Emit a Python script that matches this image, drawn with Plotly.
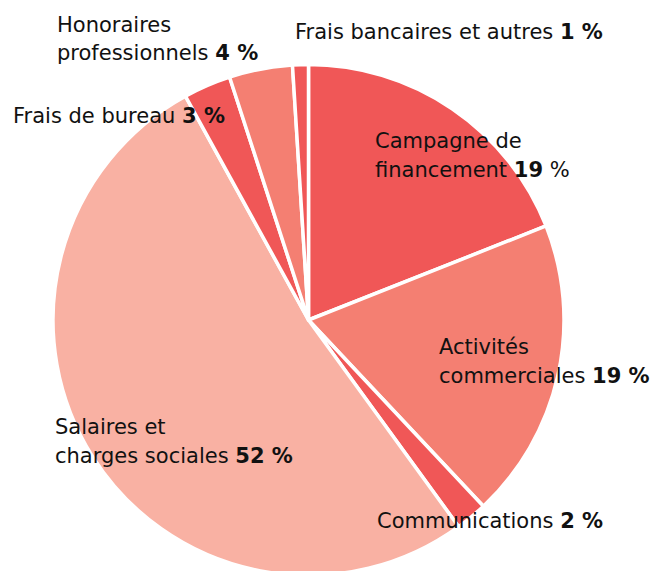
import plotly.graph_objects as go

# ---- data ----
categories = [
    "Campagne de financement",
    "Activités commerciales",
    "Communications",
    "Salaires et charges sociales",
    "Frais de bureau",
    "Honoraires professionnels",
    "Frais bancaires et autres",
]
values = [19, 19, 2, 52, 3, 4, 1]
label_lines = [
    ["Campagne de", "financement"],
    ["Activités", "commerciales"],
    ["Communications"],
    ["Salaires et", "charges sociales"],
    ["Frais de bureau"],
    ["Honoraires", "professionnels"],
    ["Frais bancaires et autres"],
]

# ---- style / layout ----
W, H = 657, 580
colors = ["#F05757", "#F47F72", "#F05757", "#F9B1A3", "#F05757", "#F47F72", "#F05757"]
# left x (px) and vertical middle of first line (px) for each label block
label_pos = [
    (376, 141),
    (440, 347),
    (378, 521),
    (56, 427),
    (14, 116),
    (58, 24.5),
    (296, 32),
]
line_gap = 29
FONT = "DejaVu Sans"
FS = 21
XPAD = 3  # annotation box padding

cx, cy, r = 308.5, 320.0, 255.5

fig = go.Figure(
    go.Pie(
        labels=categories,
        values=values,
        sort=False,
        direction="clockwise",
        rotation=0,
        textinfo="none",
        hoverinfo="label+percent",
        marker=dict(colors=colors, line=dict(color="white", width=3.5)),
        domain=dict(
            x=[(cx - r) / W, (cx + r) / W],
            y=[1 - (cy + r) / H, 1 - (cy - r) / H],
        ),
        showlegend=False,
    )
)

annotations = []
for i, (lines, v) in enumerate(zip(label_lines, values)):
    x0, y0 = label_pos[i]
    if i == 0:
        pct = f"<b>{v}</b> %"
    else:
        pct = f"<b>{v} %</b>"
    for j, line in enumerate(lines):
        txt = line
        if j == len(lines) - 1:
            txt = f"{line} {pct}"
        annotations.append(
            dict(
                x=(x0 - XPAD) / W,
                y=1 - (y0 + j * line_gap) / H,
                xref="paper",
                yref="paper",
                xanchor="left",
                yanchor="middle",
                text=txt,
                showarrow=False,
                font=dict(family=FONT, size=FS, color="#111111"),
                align="left",
            )
        )

fig.update_layout(
    width=W,
    height=H,
    margin=dict(l=0, r=0, t=0, b=0),
    paper_bgcolor="white",
    plot_bgcolor="white",
    annotations=annotations,
)

fig.write_html(
    "out.html",
    config={"displayModeBar": False},
    post_script="document.body.style.margin='0';document.documentElement.style.overflow='hidden';document.body.style.overflow='hidden';",
)
